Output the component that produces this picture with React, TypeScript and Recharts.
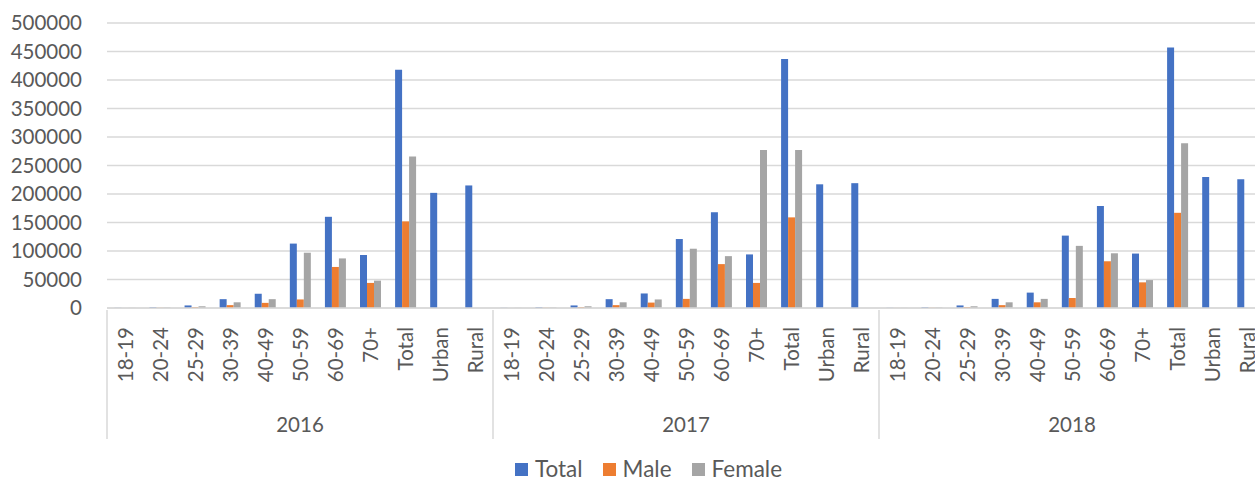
import { BarChart, Bar, XAxis, YAxis, CartesianGrid, Legend } from "recharts";

const years = ["2016", "2017", "2018"];
const groups = ["18-19", "20-24", "25-29", "30-39", "40-49", "50-59", "60-69", "70+", "Total", "Urban", "Rural"];

const totalValues = [
  300, 1200, 4500, 15500, 25000, 113000, 160000, 93000, 418000, 202000, 215000,
  300, 1200, 4500, 15500, 25500, 121000, 168000, 94000, 437000, 217000, 219000,
  300, 1200, 4500, 16000, 27000, 127000, 179000, 95500, 457000, 230000, 226000,
];
const maleValues = [
  100, 400, 1500, 5000, 9000, 15000, 72000, 44000, 152000, null, null,
  100, 400, 1500, 5000, 9500, 16000, 77000, 44000, 159000, null, null,
  100, 400, 1500, 5000, 10000, 17500, 82000, 45000, 167000, null, null,
];
const femaleValues = [
  200, 800, 3000, 10000, 15500, 97000, 87000, 48000, 266000, null, null,
  200, 800, 3000, 10000, 15000, 104000, 91000, 277000, 277000, null, null,
  200, 800, 3000, 10000, 16000, 109000, 96000, 49000, 289000, null, null,
];
const yTicks = [0, 50000, 100000, 150000, 200000, 250000, 300000, 350000, 400000, 450000, 500000];

const series = [
  { key: "total", name: "Total", color: "#4472C4" },
  { key: "male", name: "Male", color: "#ED7D31" },
  { key: "female", name: "Female", color: "#A5A5A5" },
];

const data = years.flatMap((year, yi) =>
  groups.map((label, gi) => {
    const i = yi * groups.length + gi;
    return { label, year, total: totalValues[i], male: maleValues[i], female: femaleValues[i] };
  })
);

const CHART_W = 1275;
const CHART_H = 482;
const PLOT_LEFT = 107;
const PLOT_RIGHT = 1265;
const BAND = (PLOT_RIGHT - PLOT_LEFT) / data.length;
const FONT = "Lato, 'Open Sans', sans-serif";
const TEXT = "#595959";
const LINE = "#d9d9d9";

function CategoryTick(props: any) {
  const { x, y, payload } = props;
  const i = payload.index;
  const n = groups.length;
  return (
    <g>
      <text
        x={x}
        y={y + 17}
        transform={`rotate(-90, ${x}, ${y + 17})`}
        textAnchor="end"
        dominantBaseline="central"
        fill={TEXT}
        fontSize={20.5}
        fontFamily={FONT}
      >
        {payload.value}
      </text>
      {i % n === 0 && (
        <line x1={x - BAND / 2} x2={x - BAND / 2} y1={y} y2={y + 129} stroke={LINE} strokeWidth={1.5} />
      )}
      {i === data.length - 1 && (
        <line x1={x + BAND / 2} x2={x + BAND / 2} y1={y} y2={y + 129} stroke={LINE} strokeWidth={1.5} />
      )}
      {i % n === Math.floor(n / 2) && (
        <text x={x} y={y + 122} textAnchor="middle" fill={TEXT} fontSize={20.5} fontFamily={FONT}>
          {data[i].year}
        </text>
      )}
    </g>
  );
}

function LegendContent() {
  return (
    <div
      style={{
        height: 45,
        display: "flex",
        justifyContent: "center",
        alignItems: "flex-end",
        paddingLeft: 32,
        paddingBottom: 0,
        boxSizing: "border-box",
        fontFamily: FONT,
        fontSize: 22.5,
        color: TEXT,
      }}
    >
      {series.map((s, idx) => (
        <div
          key={s.key}
          style={{
            display: "flex",
            alignItems: "center",
            marginRight: idx < series.length - 1 ? 20 : 0,
            lineHeight: "26px",
            height: 26,
          }}
        >
          <span style={{ width: 13, height: 13, background: s.color, display: "inline-block", marginRight: 7 }} />
          <span>{s.name}</span>
        </div>
      ))}
    </div>
  );
}

export default function App() {
  return (
    <div
      style={{
        position: "absolute",
        left: 0,
        top: 0,
        width: 1255,
        height: CHART_H,
        overflow: "hidden",
        background: "#fff",
      }}
    >
      <BarChart
        width={CHART_W}
        height={CHART_H}
        data={data}
        margin={{ top: 23, right: CHART_W - PLOT_RIGHT, bottom: 0, left: 0 }}
        barCategoryGap="21%"
        barGap={0}
      >
        <CartesianGrid vertical={false} stroke={LINE} strokeWidth={1.5} />
        <XAxis
          dataKey="label"
          interval={0}
          height={129}
          tickSize={0}
          tickLine={false}
          axisLine={{ stroke: LINE, strokeWidth: 1.5 }}
          tick={CategoryTick}
        />
        <YAxis
          width={PLOT_LEFT}
          domain={[0, 500000]}
          ticks={yTicks}
          interval={0}
          axisLine={false}
          tickLine={false}
          tickSize={0}
          tickMargin={25}
          tick={{ fill: TEXT, fontSize: 20.5, fontFamily: FONT }}
        />
        <Legend verticalAlign="bottom" content={LegendContent} />
        {series.map((s) => (
          <Bar key={s.key} dataKey={s.key} name={s.name} fill={s.color} isAnimationActive={false} />
        ))}
      </BarChart>
    </div>
  );
}
